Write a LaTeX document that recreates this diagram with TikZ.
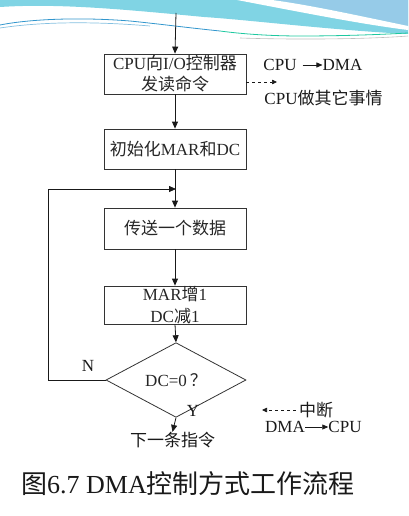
\documentclass[tikz,border=0pt]{standalone}
\usepackage{fontspec}
\setmainfont{Liberation Serif}
\newfontfamily\cjk{Noto Sans CJK SC}
\usetikzlibrary{shapes.geometric,arrows.meta}
\newcommand\zh[1]{{\cjk #1}}
\definecolor{swA}{RGB}{128,212,228}
\definecolor{swB}{RGB}{150,203,232}
\definecolor{swLine}{RGB}{50,150,205}
\definecolor{swGreen}{RGB}{30,200,160}
\begin{document}
\begin{tikzpicture}[x=1pt,y=-1pt,
  box/.style={draw=black!80, line width=0.8pt, minimum width=142pt, text=black!85,
    align=center, font=\fontsize{17}{21}\selectfont, inner sep=0pt},
  lbl/.style={inner sep=0pt, text=black!90, font=\fontsize{17}{20}\selectfont},
  arr/.style={-{Triangle[length=7pt,width=6pt]}, line width=0.8pt, draw=black!90},
  ln/.style={line width=0.8pt, draw=black!90}]
\useasboundingbox (0,0) rectangle (408,516);
% decorative swoosh
\fill[swA] (0,0) -- (408,0) -- (408,34) .. controls (330,30) and (250,20) .. (204,17)
  .. controls (130,10) and (60,3) .. (0,7) -- cycle;
\fill[swB] (272,0) .. controls (310,5) and (360,16) .. (408,26) -- (408,0) -- cycle;
\fill[white] (237,0) .. controls (300,12) and (360,24) .. (408,30) -- (408,26)
  .. controls (360,16) and (310,5) .. (272,0) -- cycle;
\draw[swLine!60, line width=0.7pt] (0,28) .. controls (40,22) and (90,21) .. (150,26);
\draw[swLine, line width=0.8pt] (0,25) .. controls (30,19) and (80,17) .. (130,21)
  .. controls (160,24) and (190,28) .. (220,31);
\draw[swGreen, line width=0.8pt] (220,31) .. controls (250,35) and (280,36) .. (300,36)
  .. controls (350,36) and (390,34) .. (408,33);
\draw[gray!50, line width=0.6pt] (240,38) .. controls (300,40) and (370,39) .. (408,36);

% flowchart
\coordinate (top) at (176,13);
\node[box, minimum height=40pt] (box1) at (175,74)
  {CPU\zh{向}I/O\zh{控制器}\\\zh{发读命令}};
\node[box, minimum height=40pt] (box2) at (175,149) {\zh{初始化}MAR\zh{和}DC};
\node[box, minimum height=41pt] (box3) at (175,228.5) {\zh{传送一个数据}};
\node[box, minimum height=38pt, font=\fontsize{17}{22}\selectfont] (box4) at (175,305)
  {MAR\zh{增}1\\DC\zh{减}1};
\node[diamond, draw=black!80, line width=0.8pt, minimum width=140pt, minimum height=47pt,
  inner sep=0pt, text=black!85, font=\fontsize{17}{20}\selectfont] (dia) at (176,380)
  {DC=0\,\zh{？}};
\node[lbl] (nxt) at (172.5,440) {\zh{下一条指令}};
\coordinate (j) at (176,189);
\coordinate (lp) at (48,189);

\draw[arr] (top) -- (box1.north);
\draw[arr] (box1.south) -- (box2.north);
\draw[arr] (box2.south) -- (box3.north);
\draw[arr] (box3.south) -- (box4.north);
\draw[arr] (box4.south) -- (dia.north);
\draw[arr] (dia.west) -| (lp) -- (j);
\draw[arr] (dia.south) -- (nxt.north);
\node[lbl] (N) at (88,366) {N};
\node[lbl] (Y) at (193,411) {Y};

% side notes
\coordinate (dA) at (277,82);
\draw[arr, dashed, line width=0.7pt, -{Triangle[length=5pt,width=4.5pt]}] (box1.east |- dA) -- (dA);
\node[lbl] (cpuA) at (280,65) {CPU};
\node[lbl] (dmaA) at (342.5,65) {DMA};
\draw[arr, line width=0.7pt, -{Triangle[length=6pt,width=5pt]}] ([xshift=6pt]cpuA.east) -- (dmaA.west);
\node[lbl] (cpuOther) at (323.5,98) {CPU\zh{做其它事情}};

\node[lbl] (zd) at (316,410) {\zh{中断}};
\coordinate (dB) at (262,410);
\draw[arr, dashed, line width=0.7pt, -{Triangle[length=5pt,width=4.5pt]}] ([xshift=-3pt]zd.west) -- (dB);
\node[lbl] (dmaB) at (285,427) {DMA};
\node[lbl] (cpuB) at (345,427) {CPU};
\draw[arr, line width=0.7pt, -{Triangle[length=6pt,width=5pt]}] (dmaB.east) -- (cpuB.west);

% caption
\node[inner sep=0pt, text=black!90] (cap) at (188,484)
  {\fontsize{26}{30}\selectfont\zh{图}6.7 DMA\zh{控制方式工作流程}};
\end{tikzpicture}
\end{document}
